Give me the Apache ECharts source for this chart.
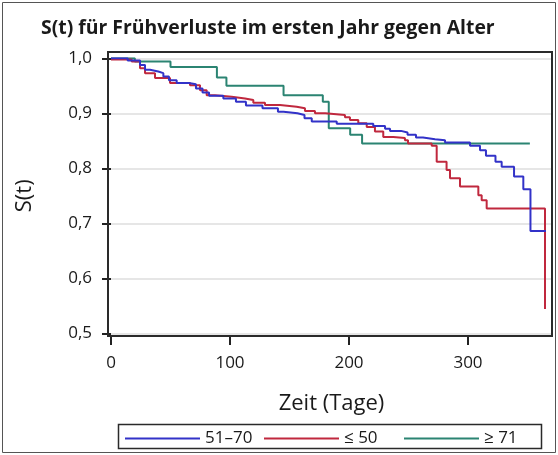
<!DOCTYPE html>
<html>
<head>
<meta charset="utf-8">
<script src="https://cdn.jsdelivr.net/npm/echarts@6/dist/echarts.min.js"></script>
<style>
  html, body { margin: 0; padding: 0; background: #fff; }
  #chart { width: 558px; height: 455px; }
</style>
</head>
<body>
<div id="chart"></div>
<script>
// Kaplan-Meier step estimates: time (days) at which S(t) changes, and the new value
const groupNames = ['51–70', '≤ 50', '≥ 71'];

const midTimes = [0, 14, 24.4, 28.6, 32.8, 39.7, 44, 48.7, 55.2, 65.5, 71.4, 76.9, 82.4, 94.4, 105, 113.4, 127.3, 140.3, 145, 156.7, 162.6, 168.7, 189.7, 220.4, 230.3, 234.5, 243.7, 249.2, 256.3, 262.2, 272.3, 280.7, 301.7, 310.1, 315.1, 323.1, 328.3, 338.7, 346.5, 352.5, 365.5];
const midSurv  = [1.0, 0.996, 0.988, 0.979, 0.976, 0.973, 0.967, 0.960, 0.955, 0.953, 0.945, 0.938, 0.932, 0.927, 0.921, 0.914, 0.909, 0.903, 0.900, 0.897, 0.891, 0.885, 0.881, 0.877, 0.872, 0.868, 0.865, 0.861, 0.856, 0.853, 0.851, 0.847, 0.841, 0.833, 0.823, 0.812, 0.803, 0.785, 0.762, 0.686, 0.686];

const youngTimes = [0, 17.4, 24.4, 28.6, 37, 49.6, 66.4, 74.8, 80.4, 87.4, 101.4, 112.6, 119.6, 129.4, 142, 156, 163, 171.4, 180, 196.6, 200.8, 207.8, 214.9, 221.8, 228.8, 237.2, 247, 249.6, 269.5, 273.7, 282, 284.9, 293.3, 308.7, 311.5, 315.7, 364.7];
const youngSurv  = [0.998, 0.994, 0.982, 0.973, 0.964, 0.955, 0.951, 0.942, 0.933, 0.930, 0.927, 0.924, 0.919, 0.915, 0.912, 0.909, 0.904, 0.900, 0.897, 0.893, 0.888, 0.882, 0.875, 0.867, 0.857, 0.855, 0.851, 0.845, 0.841, 0.812, 0.797, 0.782, 0.767, 0.751, 0.742, 0.727, 0.544];

const oldTimes = [0, 20, 50, 89, 97, 145, 178, 183, 201, 211, 352];
const oldSurv  = [1.0, 0.994, 0.984, 0.965, 0.950, 0.933, 0.921, 0.873, 0.861, 0.845, 0.845];

const xTicks = [0, 100, 200, 300];
const yTicks = [0.5, 0.6, 0.7, 0.8, 0.9, 1.0];

const groupColors = ['#3232c8', '#c0283e', '#2b8472'];

function pairs(ts, ss) { return ts.map((t, i) => [t, ss[i]]); }
const seriesData = [pairs(midTimes, midSurv), pairs(youngTimes, youngSurv), pairs(oldTimes, oldSurv)];

const FONT = '"Open Sans", "DejaVu Sans", sans-serif';
const chart = echarts.init(document.getElementById('chart'), null, { renderer: 'canvas' });

const legendLefts = [120, 259, 399];

chart.setOption({
  animation: false,
  backgroundColor: '#fff',
  textStyle: { fontFamily: FONT },
  title: {
    text: 'S(t) für Frühverluste im ersten Jahr gegen Alter',
    left: 36, top: 14,
    textStyle: { fontFamily: FONT, fontSize: 19.4, fontWeight: 'bold', color: '#1a1a1a' }
  },
  grid: { left: 111, right: 6, top: 58.3, bottom: 121.7, containLabel: false },
  xAxis: {
    type: 'value',
    min: 0, max: 370.6, interval: 100,
    offset: 2.7,
    name: 'Zeit (Tage)', nameLocation: 'middle', nameGap: 57,
    nameTextStyle: { fontFamily: FONT, fontSize: 22, color: '#1a1a1a' },
    axisLine: { show: false },
    axisTick: { show: true, length: 9, lineStyle: { color: '#222', width: 2 } },
    axisLabel: {
      fontFamily: FONT, fontSize: 17, color: '#1a1a1a', margin: 19,
      showMaxLabel: false,
      formatter: v => xTicks.includes(v) ? String(v) : ''
    },
    splitLine: { show: false }
  },
  yAxis: {
    type: 'value',
    min: yTicks[0], max: yTicks[yTicks.length - 1], interval: 0.1,
    offset: 3,
    name: 'S(t)', nameLocation: 'middle', nameGap: 72, nameRotate: 90,
    nameTextStyle: { fontFamily: FONT, fontSize: 22, color: '#1a1a1a' },
    axisLine: { show: false },
    axisTick: { show: true, length: 9, lineStyle: { color: '#222', width: 2 } },
    axisLabel: {
      fontFamily: FONT, fontSize: 17, color: '#1a1a1a', margin: 16,
      formatter: v => v.toFixed(1).replace('.', ',')
    },
    splitLine: { show: true, lineStyle: { color: '#dedede', width: 1.5 } }
  },
  legend: groupNames.map((n, i) => ({
    data: [n],
    left: legendLefts[i], top: 425,
    icon: 'rect', itemWidth: 75, itemHeight: 2,
    textStyle: { fontFamily: FONT, fontSize: 17, color: '#1a1a1a' },
    selectedMode: false
  })),
  graphic: [
    { type: 'rect', shape: { x: 2.5, y: 2.5, width: 553, height: 450 }, style: { fill: 'none', stroke: '#555', lineWidth: 1 }, z: 100 },
    { type: 'rect', shape: { x: 108, y: 52, width: 444, height: 284 }, style: { fill: 'none', stroke: '#2a2a2a', lineWidth: 2 }, z: 100 },
    { type: 'rect', shape: { x: 118.5, y: 424.5, width: 423, height: 24 }, style: { fill: 'none', stroke: '#2a2a2a', lineWidth: 1.5 }, z: 100 }
  ],
  series: groupNames.map((n, i) => ({
    name: n,
    type: 'line',
    step: 'end',
    showSymbol: false,
    symbol: 'none',
    data: seriesData[i],
    itemStyle: { color: groupColors[i] },
    lineStyle: { color: groupColors[i], width: 2 },
    z: [3, 2, 1][i]
  }))
});
</script>
</body>
</html>
